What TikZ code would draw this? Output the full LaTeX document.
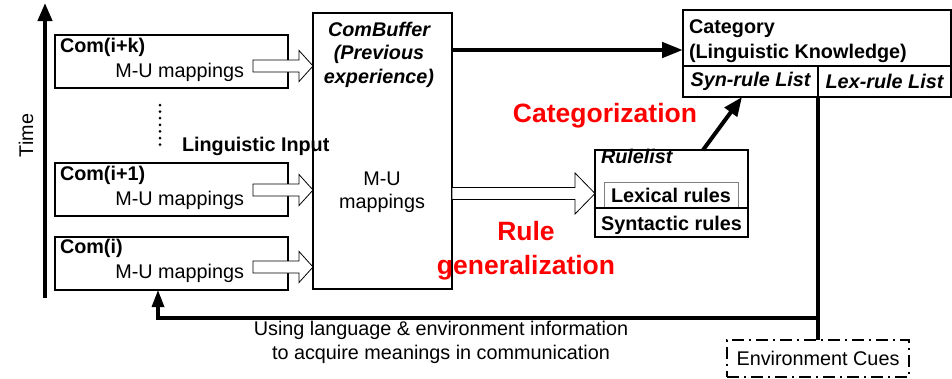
\documentclass[tikz,border=0pt]{standalone}
\usepackage{fontspec}
\setmainfont{Liberation Sans}
\usetikzlibrary{arrows.meta,calc}

\begin{document}
\begin{tikzpicture}
	[x=1pt,y=-1pt,
	every node/.style={inner sep=0pt,outer sep=0pt,font=\fontsize{19.8}{23.5}\selectfont},
	box/.style={draw,rectangle,line width=1.6pt,anchor=north west},
	combox/.style={box,minimum width=233pt,minimum height=53pt},
	hollow/.style={draw,line width=0.8pt,fill=white,line join=miter},
	pics/hollowarrow/.style args={#1/#2/#3}{code={
		\draw[hollow] (0,0) -- (-#2,-#3) -- (-#2,-6) -- (-#1,-6) -- (-#1,6) -- (-#2,6) -- (-#2,#3) -- cycle;
	}},
	redlabel/.style={text=red,font=\fontsize{26.5}{34}\selectfont\bfseries},
	bigarrow/.style={line width=4.5pt,-{Triangle[length=21pt,width=15pt]}},
	fbline/.style={line width=3.2pt},
	envbox/.style={draw,line width=1.5pt,dash pattern=on 12pt off 5pt on 2pt off 5pt,minimum width=182pt,minimum height=37pt,anchor=north}
	]
	\useasboundingbox (0,0) rectangle (952,378);

	% time axis
	\coordinate (t0) at (45,298);
	\coordinate (t1) at (45,3);
	\draw[line width=4pt,-{Triangle[length=18pt,width=14pt]}] (t0) -- (t1);
	\node[rotate=90,anchor=base] (time) at (33,135.5) {Time};

	% communications
	\node[combox] (ck) at (55,35) {};
	\node[combox] (c1) at (55,163) {};
	\node[combox] (c0) at (55,237) {};
	\node[anchor=base west] (ckname) at ($(ck.north west)+(5,17)$) {\bfseries Com(i+k)};
	\node[anchor=base east] (ckmap) at ($(ck.north east)+(-44,42)$) {M-U mappings};
	\node[anchor=base west] (c1name) at ($(c1.north west)+(5,17)$) {\bfseries Com(i+1)};
	\node[anchor=base east] (c1map) at ($(c1.north east)+(-44,42)$) {M-U mappings};
	\node[anchor=base west] (c0name) at ($(c0.north west)+(5,16)$) {\bfseries Com(i)};
	\node[anchor=base east] (c0map) at ($(c0.north east)+(-44,41)$) {M-U mappings};
	\draw[line width=3pt,line cap=round,dash pattern=on 0pt off 6.6pt] ($(ck.south)+(-11.5,17)$) -- ($(c1.north)+(-11.5,-12)$);

	% buffer
	\node[box,minimum width=139pt,minimum height=276pt] (buf) at (313,13) {};
	\node[anchor=base,align=center] (buftitle) at (379,83) {\bfseries\itshape ComBuffer\\\bfseries\itshape (Previous\\\bfseries\itshape experience)};
	\node[anchor=base,align=center] (bufmap) at (382,208.5) {M-U\\mappings};

	\pic at ($(buf.west |- ck.east)+(0,4.5)$) {hollowarrow=60/14/15.5};
	\pic at ($(buf.west |- c1.east)+(0,0.5)$) {hollowarrow=60/14/15.5};
	\pic at ($(buf.west |- c0.east)+(0,3.5)$) {hollowarrow=60/14/15.5};
	\node[anchor=base west] (input) at (182,151) {\bfseries Linguistic Input};

	% category
	\node[box,line width=2pt,minimum width=268pt,minimum height=56pt] (cat) at (683,10) {};
	\node[anchor=base west,align=left] (catname) at ($(cat.north west)+(6,48)$) {\bfseries Category\\[1.5pt]\bfseries (Linguistic Knowledge)};
	\node[box,line width=2pt,minimum width=135pt,minimum height=31pt] (syn) at (683,66) {\bfseries\itshape Syn-rule List};
	\node[box,line width=2pt,minimum width=133pt,minimum height=31pt] (lex) at (818,66) {\bfseries\itshape Lex-rule List};
	\coordinate (catin) at ($(cat.west)+(0,12)$);
	\draw[bigarrow] (buf.east |- catin) -- (catin);

	% rule list
	\node[box,line width=2pt,minimum width=153pt,minimum height=87pt] (rule) at (595,150) {};
	\node[anchor=base west] (rulename) at ($(rule.north west)+(6,13)$) {\bfseries\itshape Rulelist};
	\node[draw=gray,line width=0.8pt,minimum width=134pt,minimum height=26pt,anchor=north west] (lexr) at ($(rule.north west)+(9,32)$) {\bfseries Lexical rules};
	\draw[line width=1.6pt] (rule.west |- lexr.south) -- (rule.east |- lexr.south);
	\node[anchor=base] (synr) at ($(rule.south)+(0,-7)$) {\bfseries Syntactic rules};
	\pic at (rule.west) {hollowarrow=143/20/20.5};
	\draw[line width=4pt,-{Triangle[length=19pt,width=15pt]}] ($(rule.north)+(31.5,0)$) -- ($(syn.south)+(-8.5,0)$);

	\node[redlabel,anchor=base] (categ) at (605,122) {Categorization};
	\node[redlabel,anchor=base,align=center] (rulegen) at (526,274) {Rule\\generalization};

	% environment feedback
	\node[envbox] (env) at (818,340) {Environment Cues};
	\coordinate (fb) at ($(env.north)+(0,-22)$);
	\draw[fbline] (syn.south east) -- (env.north);
	\draw[fbline,-{Triangle[length=17pt,width=12pt]}] (fb) -| ($(c0.south)+(-13.5,0)$);
	\node[anchor=base,align=center] (fbtext) at (441,359) {Using language \& environment information\\to acquire meanings in communication};
\end{tikzpicture}
\end{document}
